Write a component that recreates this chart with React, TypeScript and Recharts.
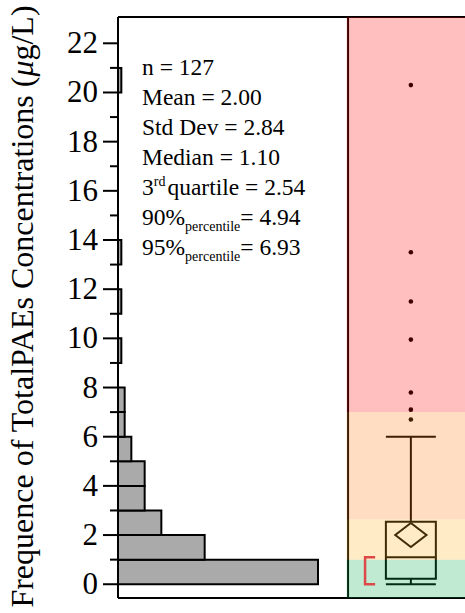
import React from "react";
import {
  ComposedChart,
  XAxis,
  YAxis,
  ReferenceArea,
  ReferenceLine,
  Scatter,
} from "recharts";

// histogram: bin starts (width 1) and counts
const binStarts = [0, 1, 2, 3, 4, 5, 6, 7, 9, 11, 13, 20];
const binCounts = [60, 26, 13, 8, 8, 4, 2, 2, 1, 1, 1, 1];

// outlier box plot
const outliers = [6.7, 7.1, 7.8, 9.95, 11.5, 13.5, 20.3];
const boxMin = 0.0;
const boxQ1 = 0.22;
const boxMedian = 1.1;
const boxQ3 = 2.54;
const boxUpper = 6.0;
const meanCi = [1.51, 2.49];
const shortestHalf = [0.0, 1.1];

// background limits (bottom -> top)
const bandLimits = [-0.56, 1.0, 2.64, 7.0, 23.07];
const bandColors = ["#08ac50", "#ffb41e", "#fa780a", "#ff0000"];

const yTicks = Array.from({ length: 23 }, (_, i) => i);

const statLabels = ["n = ", "Mean = ", "Std Dev = ", "Median = "];
const statValues = ["127", "2.00", "2.84", "1.10"];
const quartileValue = "2.54";
const percentileNames = ["90%", "95%"];
const percentileValues = ["4.94", "6.93"];

const FONT = '"Liberation Serif", "Times New Roman", serif';
const Y_MIN = bandLimits[0];
const Y_MAX = bandLimits[bandLimits.length - 1];
const COUNT_MAX = 104.1;

// positions inside the right panel, as fractions of the plot width
const SPLIT = 0.663;
const BOX_X = 0.844;
const BOX_HALF = 0.072;
const DIAMOND_HALF = 0.045;
const BRACKET = [0.712, 0.741];

function AxisTick(props: any) {
  const { x, y, payload } = props;
  const v = payload.value;
  const major = v % 2 === 0;
  return (
    <g>
      <line
        x1={x - (major ? 15 : 8)}
        x2={x}
        y1={y}
        y2={y}
        stroke="#000"
        strokeWidth={2}
      />
      {major && (
        <text
          x={x - 20}
          y={y + 10}
          textAnchor="end"
          fontSize={31}
          fontFamily={FONT}
          fill="#000"
        >
          {v}
        </text>
      )}
    </g>
  );
}

const AxisTitle = () => {
  const cx = 33;
  const cy = 306.5;
  return (
    <text
      x={cx}
      y={cy}
      transform={`rotate(-90 ${cx} ${cy})`}
      textAnchor="middle"
      fontSize={32}
      fontFamily={FONT}
      fill="#000"
    >
      Frequence of TotalPAEs Concentrations (
      <tspan fontStyle="italic">μ</tspan>g/L)
    </text>
  );
};

const Diamond = (props: any) => {
  const { x, y, width, height } = props;
  const mx = x + width / 2;
  const my = y + height / 2;
  return (
    <polygon
      points={`${mx},${y} ${x + width},${my} ${mx},${y + height} ${x},${my}`}
      fill="none"
      stroke="#000"
      strokeWidth={2}
    />
  );
};

const Bracket = (props: any) => {
  const { x, y, width, height } = props;
  return (
    <path
      d={`M${x + width},${y} H${x} V${y + height} H${x + width}`}
      fill="none"
      stroke="#dd4848"
      strokeWidth={2.5}
    />
  );
};

const Dot = (props: any) => (
  <circle cx={props.cx} cy={props.cy} r={2.3} fill="#000" />
);

const NoShape = () => <g />;

function Stats() {
  const x = 142;
  const base = 75;
  const step = 30;
  return (
    <svg
      width={465}
      height={613}
      style={{ position: "absolute", left: 0, top: 0, pointerEvents: "none" }}
    >
      <g fontFamily={FONT} fontSize={23.5} fill="#000">
        {statLabels.map((l, i) => (
          <text key={l} x={x} y={base + i * step}>
            {l + statValues[i]}
          </text>
        ))}
        <text x={x} y={base + 4 * step}>
          3<tspan fontSize={14} dy={-9}>rd</tspan>
          <tspan dy={9} dx={2}>quartile = {quartileValue}</tspan>
        </text>
        {percentileNames.map((p, i) => (
          <text key={p} x={x} y={base + (5 + i) * step}>
            {p}
            <tspan fontSize={14} dy={6}>percentile</tspan>
            <tspan dy={-6}>= {percentileValues[i]}</tspan>
          </text>
        ))}
      </g>
    </svg>
  );
}

export default function App() {
  const histRows = binStarts.map((b, i) => ({ count: binCounts[i], y: b }));
  const outlierData = outliers.map((v) => ({ x: BOX_X, y: v }));
  const seg = (x1: number, y1: number, x2: number, y2: number, key: string) => (
    <ReferenceLine
      key={key}
      xAxisId="panel"
      yAxisId="v"
      segment={[
        { x: x1, y: y1 },
        { x: x2, y: y2 },
      ]}
      stroke="#000"
      strokeWidth={2}
      ifOverflow="visible"
    />
  );

  return (
    <div style={{ position: "absolute", left: 0, top: 0, width: 465, height: 613, background: "#fff" }}>
      <ComposedChart
        width={465}
        height={613}
        margin={{ top: 17, right: 0, bottom: 15, left: 0 }}
      >
        <XAxis
          xAxisId="hist"
          type="number"
          dataKey="count"
          domain={[0, COUNT_MAX]}
          allowDataOverflow
          hide
        />
        <XAxis
          xAxisId="panel"
          type="number"
          dataKey="x"
          domain={[0, 1]}
          allowDataOverflow
          hide
        />
        <YAxis
          yAxisId="v"
          type="number"
          dataKey="y"
          domain={[Y_MIN, Y_MAX]}
          allowDataOverflow
          ticks={yTicks}
          interval={0}
          width={118}
          tickSize={0}
          tickMargin={0}
          tickLine={false}
          axisLine={{ stroke: "#000", strokeWidth: 2 }}
          tick={<AxisTick />}
          label={<AxisTitle />}
        />

        {/* ties the histogram axis to the bin data */}
        <Scatter
          xAxisId="hist"
          yAxisId="v"
          data={histRows}
          shape={<NoShape />}
          isAnimationActive={false}
        />
        {binStarts.map((b, i) => (
          <ReferenceArea
            key={`bin-${b}`}
            xAxisId="hist"
            yAxisId="v"
            x1={0}
            x2={binCounts[i]}
            y1={b}
            y2={b + 1}
            fill="#aaaaaa"
            fillOpacity={1}
            stroke="#000"
            strokeWidth={2}
          />
        ))}

        {/* box plot */}
        <ReferenceArea
          xAxisId="panel"
          yAxisId="v"
          x1={BOX_X - BOX_HALF}
          x2={BOX_X + BOX_HALF}
          y1={boxQ1}
          y2={boxQ3}
          fill="none"
          fillOpacity={0}
          stroke="#000"
          strokeWidth={2}
        />
        {seg(BOX_X - BOX_HALF, boxMedian, BOX_X + BOX_HALF, boxMedian, "med")}
        {seg(BOX_X, boxQ3, BOX_X, boxUpper, "wu")}
        {seg(BOX_X - BOX_HALF, boxUpper, BOX_X + BOX_HALF, boxUpper, "cu")}
        {seg(BOX_X, boxQ1, BOX_X, boxMin, "wl")}
        {seg(BOX_X - BOX_HALF, boxMin, BOX_X + BOX_HALF, boxMin, "cl")}
        <ReferenceArea
          xAxisId="panel"
          yAxisId="v"
          x1={BOX_X - DIAMOND_HALF}
          x2={BOX_X + DIAMOND_HALF}
          y1={meanCi[0]}
          y2={meanCi[1]}
          shape={<Diamond />}
        />
        <Scatter
          xAxisId="panel"
          yAxisId="v"
          data={outlierData}
          shape={<Dot />}
          isAnimationActive={false}
        />

        {/* frame */}
        <ReferenceLine xAxisId="panel" yAxisId="v" x={SPLIT} stroke="#000" strokeWidth={2} />
        <ReferenceLine xAxisId="panel" yAxisId="v" y={Y_MAX} stroke="#000" strokeWidth={2} />
        <ReferenceLine xAxisId="panel" yAxisId="v" y={Y_MIN} stroke="#000" strokeWidth={2} />

        {/* translucent limit bands over the box plot */}
        {bandColors.map((c, i) => (
          <ReferenceArea
            key={`band-${i}`}
            xAxisId="panel"
            yAxisId="v"
            x1={SPLIT - 0.004}
            x2={1}
            y1={bandLimits[i]}
            y2={bandLimits[i + 1]}
            fill={c}
            fillOpacity={0.25}
            stroke="none"
            zIndex={2500}
          />
        ))}

        <ReferenceArea
          xAxisId="panel"
          yAxisId="v"
          x1={BRACKET[0]}
          x2={BRACKET[1]}
          y1={shortestHalf[0]}
          y2={shortestHalf[1]}
          shape={<Bracket />}
          zIndex={2600}
        />
      </ComposedChart>
      <Stats />
    </div>
  );
}
